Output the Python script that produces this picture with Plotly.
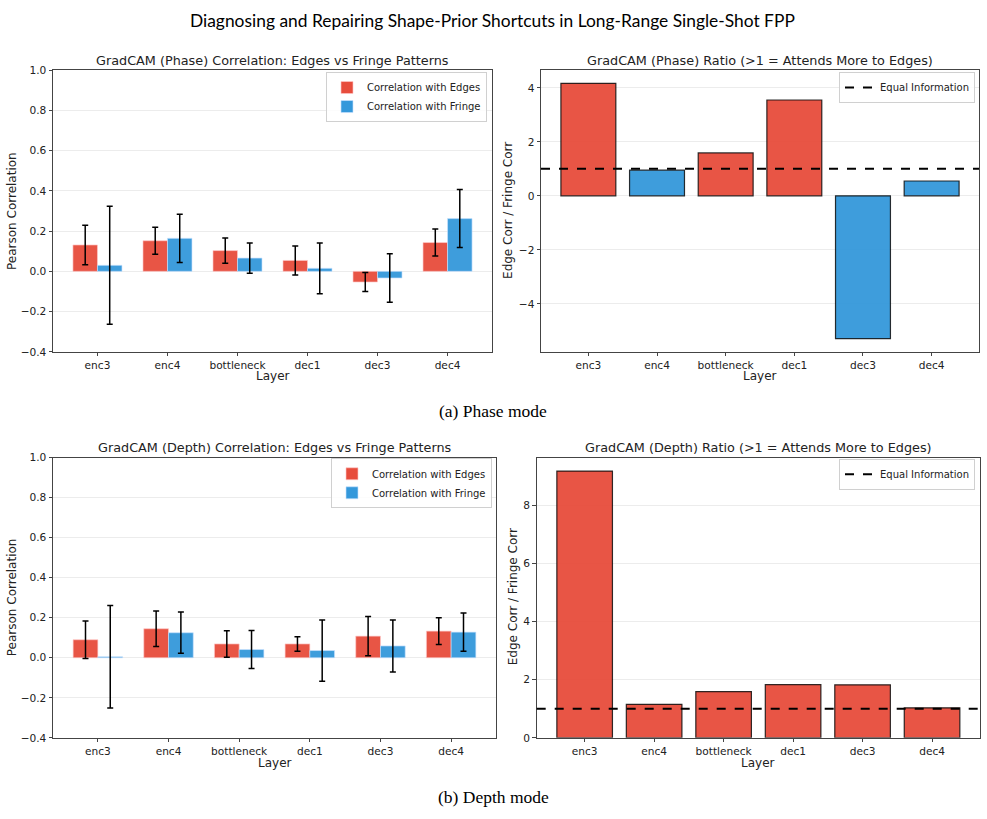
import plotly.graph_objects as go

layers = ["enc3", "enc4", "bottleneck", "dec1", "dec3", "dec4"]

# Phase mode
phase_edge = [0.131, 0.152, 0.103, 0.054, -0.053, 0.143]
phase_edge_err = [0.098, 0.067, 0.063, 0.072, 0.047, 0.067]
phase_fringe = [0.030, 0.164, 0.066, 0.015, -0.033, 0.262]
phase_fringe_err = [0.293, 0.120, 0.075, 0.126, 0.120, 0.144]
phase_ratio = [4.17, 0.95, 1.59, 3.55, -5.29, 0.55]

# Depth mode
depth_edge = [0.090, 0.145, 0.069, 0.069, 0.108, 0.133]
depth_edge_err = [0.094, 0.089, 0.066, 0.036, 0.098, 0.067]
depth_fringe = [0.005, 0.125, 0.041, 0.036, 0.059, 0.128]
depth_fringe_err = [0.256, 0.103, 0.095, 0.153, 0.130, 0.096]
depth_ratio = [9.165, 1.15, 1.59, 1.83, 1.82, 1.03]

RED = "#e74c3c"
BLUE = "#3498db"
FONT = "DejaVu Sans"
W, H = 987, 819

fig = go.Figure()


def corr_traces(edge, edge_err, fringe, fringe_err, xa, ya, leg):
    fig.add_trace(go.Bar(
        x=layers, y=edge, name="Correlation with Edges",
        marker=dict(color=RED, opacity=0.95, line=dict(color="rgba(255,200,200,0.8)", width=0.8)),
        error_y=dict(type="data", array=edge_err, color="black", thickness=1.5, width=3),
        xaxis=xa, yaxis=ya, legend=leg, offsetgroup="e"))
    fig.add_trace(go.Bar(
        x=layers, y=fringe, name="Correlation with Fringe",
        marker=dict(color=BLUE, opacity=0.95, line=dict(color="rgba(200,225,255,0.8)", width=0.8)),
        error_y=dict(type="data", array=fringe_err, color="black", thickness=1.5, width=3),
        xaxis=xa, yaxis=ya, legend=leg, offsetgroup="f"))


def ratio_traces(ratio, xa, ya, leg):
    colors = [RED if r > 1 else BLUE for r in ratio]
    fig.add_trace(go.Bar(
        x=layers, y=ratio, showlegend=False, width=0.8,
        marker=dict(color=colors, opacity=0.95, line=dict(color="rgba(0,0,0,0.85)", width=1.2)),
        xaxis=xa, yaxis=ya))
    fig.add_trace(go.Scatter(
        x=[None], y=[None], mode="lines", name="Equal Information",
        line=dict(color="black", width=2, dash="dash"),
        xaxis=xa, yaxis=ya, legend=leg))
    fig.add_shape(type="line", xref=xa + " domain", yref=ya, x0=0, x1=1, y0=1, y1=1,
                  line=dict(color="black", width=2, dash="dash"), layer="above")


corr_traces(phase_edge, phase_edge_err, phase_fringe, phase_fringe_err, "x", "y", "legend")
ratio_traces(phase_ratio, "x2", "y2", "legend2")
corr_traces(depth_edge, depth_edge_err, depth_fringe, depth_fringe_err, "x3", "y3", "legend3")
ratio_traces(depth_ratio, "x4", "y4", "legend4")

def px(v):
    return v / W

def py(v):
    return 1 - v / H

axis_common = dict(showline=True, linecolor="#444", linewidth=1, mirror=True,
                   ticks="outside", ticklen=3.5, tickcolor="#444", tickwidth=1,
                   tickfont=dict(family=FONT, size=10.6, color="#222"), zeroline=False)

yaxis_common = dict(axis_common, showgrid=True, gridcolor="#ececec", gridwidth=0.8)
xaxis_common = dict(axis_common, showgrid=False, type="category")

top_y = [py(351), py(65)]
bot_y = [py(742.7), py(458.3)]

fig.update_layout(
    width=W, height=H, margin=dict(l=0, r=0, t=0, b=0),
    paper_bgcolor="white", plot_bgcolor="white",
    font=dict(family=FONT, color="#222"),
    barmode="group", bargap=0.3, bargroupgap=0,
    xaxis=dict(xaxis_common, domain=[px(53), px(492)], anchor="y", range=[-0.635, 5.635]),
    yaxis=dict(yaxis_common, domain=top_y, anchor="x", range=[-0.4, 1.0], dtick=0.2, tickformat=".1f"),
    xaxis2=dict(xaxis_common, domain=[px(541), px(979)], anchor="y2", range=[-0.69, 5.69]),
    yaxis2=dict(yaxis_common, domain=top_y, anchor="x2", range=[-5.78, 4.66], dtick=2),
    xaxis3=dict(xaxis_common, domain=[px(53), px(496)], anchor="y3", range=[-0.635, 5.635]),
    yaxis3=dict(yaxis_common, domain=bot_y, anchor="x3", range=[-0.4, 1.0], dtick=0.2, tickformat=".1f"),
    xaxis4=dict(xaxis_common, domain=[px(536.7), px(980)], anchor="y4", range=[-0.69, 5.69]),
    yaxis4=dict(yaxis_common, domain=bot_y, anchor="x4", range=[0, 9.63], dtick=2),
)

leg_common = dict(bgcolor="rgba(255,255,255,0.85)", bordercolor="#d0d0d0", borderwidth=1,
                  font=dict(family=FONT, size=10, color="#222"), xanchor="right", yanchor="top",
                  tracegroupgap=0, itemwidth=30)
fig.update_layout(
    legend=dict(leg_common, x=px(487), y=py(67)),
    legend2=dict(leg_common, x=px(975), y=py(67)),
    legend3=dict(leg_common, x=px(492), y=py(459)),
    legend4=dict(leg_common, x=px(975), y=py(459.5)),
)

ann = []
# Suptitle
ann.append(dict(text="Diagnosing and Repairing Shape-Prior Shortcuts in Long-Range Single-Shot FPP",
                x=px(492), y=py(15), font=dict(family="Lato", size=17.4, color="black")))
# Subplot titles
titles = [
    ("GradCAM (Phase) Correlation: Edges vs Fringe Patterns", 272.5, 55),
    ("GradCAM (Phase) Ratio (>1 = Attends More to Edges)", 760, 55),
    ("GradCAM (Depth) Correlation: Edges vs Fringe Patterns", 274.5, 448),
    ("GradCAM (Depth) Ratio (>1 = Attends More to Edges)", 758, 448),
]
for t, x, y in titles:
    ann.append(dict(text=t, x=px(x), y=py(y), font=dict(family=FONT, size=12.8, color="#222")))
# Axis titles
for x, y in [(272.5, 376), (760, 376), (274.5, 768), (758, 768)]:
    ann.append(dict(text="Layer", x=px(x), y=py(y), font=dict(family=FONT, size=12, color="#222")))
for x, y, t in [(12, 208, "Pearson Correlation"), (508, 208, "Edge Corr / Fringe Corr"),
                (12, 600, "Pearson Correlation"), (513, 600, "Edge Corr / Fringe Corr")]:
    ann.append(dict(text=t, x=px(x), y=py(y), textangle=-90,
                    font=dict(family=FONT, size=12, color="#222")))
# Captions
ann.append(dict(text="(a) Phase mode", x=px(493), y=py(411), font=dict(family="Liberation Serif", size=17.5, color="black")))
ann.append(dict(text="(b) Depth mode", x=px(493), y=py(803), font=dict(family="Liberation Serif", size=17.5, color="black")))

for a in ann:
    a.update(xref="paper", yref="paper", showarrow=False, xanchor="center", yanchor="middle")
fig.update_layout(annotations=ann)

fig.write_html("out.html")
